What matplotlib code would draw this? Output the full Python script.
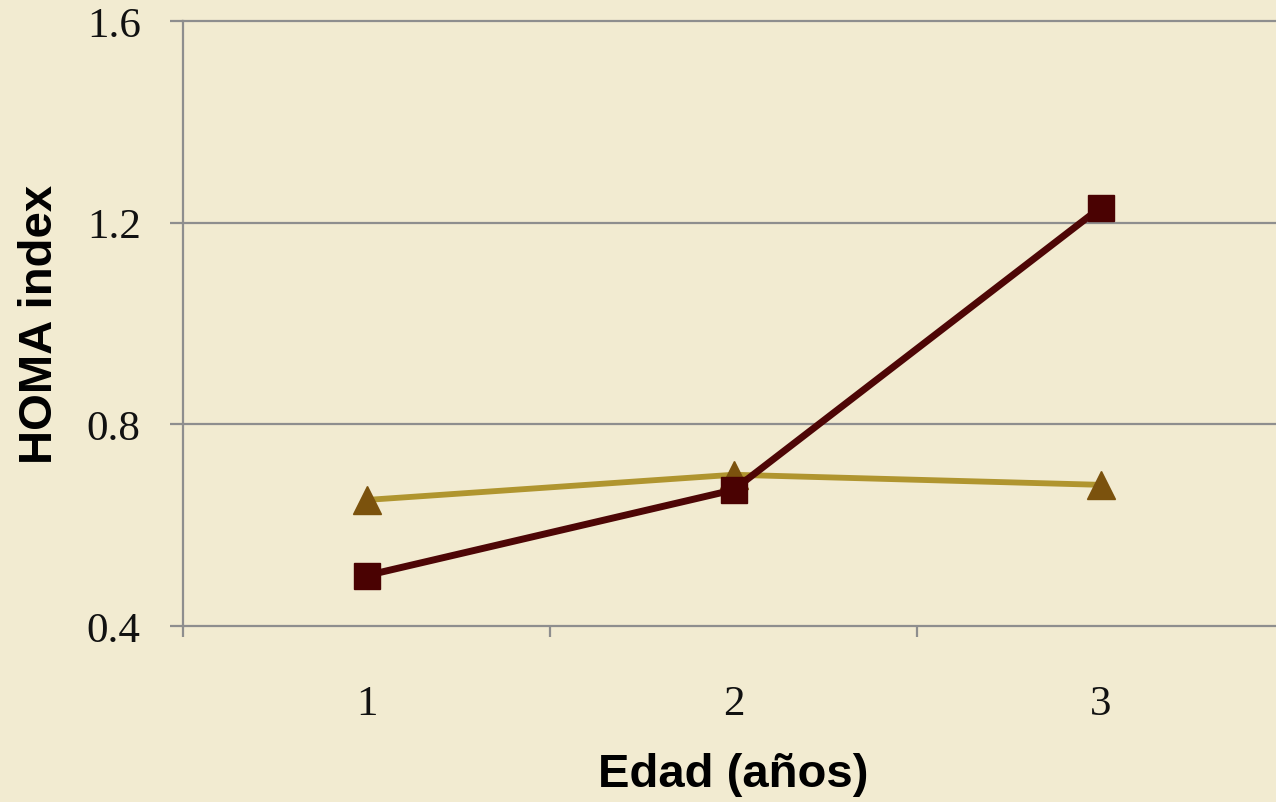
import matplotlib
matplotlib.use("Agg")
import matplotlib.pyplot as plt
from matplotlib.ticker import FixedLocator

# HOMA index by age (years)
edades = [1, 2, 3]
edad_labels = ["1", "2", "3"]
serie_a = [0.50, 0.67, 1.23]   # dark red squares
serie_b = [0.65, 0.70, 0.68]   # gold triangles
y_ticks = [0.4, 0.8, 1.2, 1.6]
y_tick_labels = ["0.4", "0.8", "1.2", "1.6"]

bg = "#F2EBD1"
grid_c = "#8E8E8E"

fig = plt.figure(figsize=(12.76, 8.03), dpi=100, facecolor=bg)
ax = fig.add_axes([183 / 1276, 1 - 627 / 803, 1101 / 1276, 605 / 803])
ax.set_facecolor(bg)

ax.set_xlim(0.5, 3.5)
ax.set_ylim(0.4, 1.6)

# horizontal gridlines
for v in y_ticks:
    ax.axhline(v, color=grid_c, lw=1.6, zorder=1, clip_on=False)

ax.plot(edades, serie_b, color="#B0952F", lw=4.2, marker="^", ms=20,
        markerfacecolor="#7B520D", markeredgecolor="#7B520D", zorder=3,
        clip_on=False)
ax.plot(edades, serie_a, color="#4E0606", lw=5.0, marker="s", ms=19,
        markerfacecolor="#4A0202", markeredgecolor="#4A0202", zorder=4,
        clip_on=False)

for s in ["top", "right", "bottom"]:
    ax.spines[s].set_visible(False)
ax.spines["left"].set_color(grid_c)
ax.spines["left"].set_linewidth(1.6)

ax.set_yticks(y_ticks)
ax.set_yticklabels(y_tick_labels)
ax.set_xticks(edades)
ax.set_xticklabels(edad_labels)
ax.xaxis.set_minor_locator(FixedLocator([0.5, 1.5, 2.5, 3.5]))

serif = ["Liberation Serif", "DejaVu Serif"]
ax.tick_params(axis="y", which="major", length=9.5, width=1.6, color=grid_c,
               pad=21, labelsize=31)
ax.tick_params(axis="x", which="major", length=0, pad=42, labelsize=31)
ax.tick_params(axis="x", which="minor", length=8, width=1.6, color=grid_c)
for lab in ax.get_xticklabels() + ax.get_yticklabels():
    lab.set_fontfamily(serif)
    lab.set_color("#111111")

sans = ["Liberation Sans", "DejaVu Sans"]
ax.set_xlabel("Edad (años)", fontsize=34, fontweight="bold", family=sans)
ax.set_ylabel("HOMA index", fontsize=34, fontweight="bold", family=sans)
ax.xaxis.set_label_coords(0.5, (627 - 775) / 605)
ax.xaxis.label.set_va("center")
ax.yaxis.set_label_coords((40 - 183) / 1101, 0.5)
ax.yaxis.label.set_va("center")

fig.savefig("out.png", dpi=100, facecolor=bg)
